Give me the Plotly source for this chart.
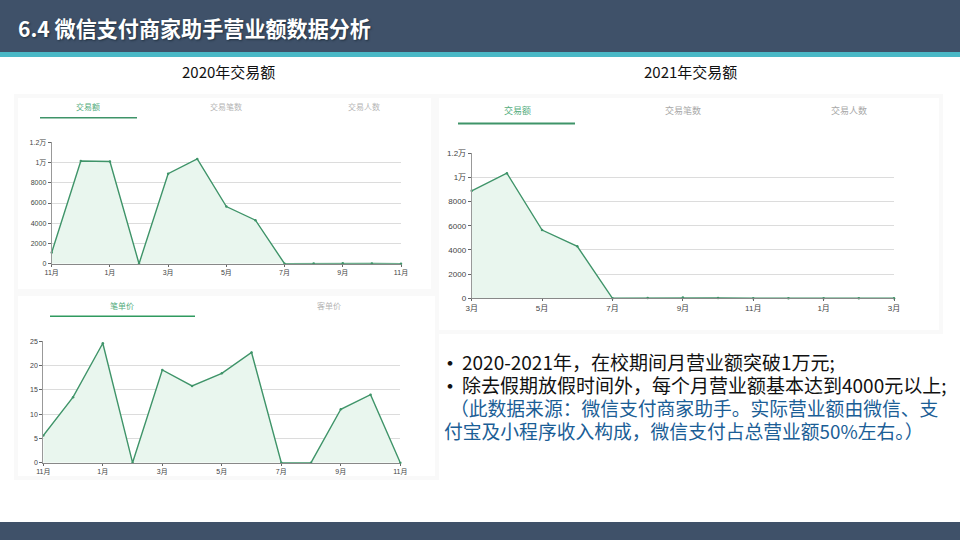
import plotly.graph_objects as go

# monthly values
months_2020 = ['11月', '12月', '1月', '2月', '3月', '4月', '5月', '6月', '7月', '8月', '9月', '10月', '11月']
months_2021 = ['3月', '4月', '5月', '6月', '7月', '8月', '9月', '10月', '11月', '12月', '1月', '2月', '3月']
amount_2020 = [1100, 10150, 10100, 0, 8900, 10350, 5650, 4300, 0, 20, 50, 30, 0]
price_2020 = [5.6, 13.5, 24.6, 0, 19.1, 15.8, 18.4, 22.7, 0, 0, 11, 14, 0]
amount_2021 = [8900, 10350, 5650, 4300, 0, 20, 60, 30, 10, 10, 10, 10, 10]

amount_ticks = [0, 2000, 4000, 6000, 8000, 10000, 12000]
amount_labels = ['0', '2000', '4000', '6000', '8000', '1万', '1.2万']
price_ticks = [0, 5, 10, 15, 20, 25]

FONT = 'Noto Sans CJK SC'
TICK_FONT = 'Liberation Sans, Noto Sans CJK SC'
GREEN = '#3f9469'
W, H = 960, 540


def px(x):
    return x / W


def py(y):
    return 1 - y / H


fig = go.Figure()
shapes = []
annotations = []


def rect(x0, y0, x1, y1, fill, line=None, width=0):
    shapes.append(dict(type='rect', xref='paper', yref='paper', x0=px(x0), x1=px(x1), y0=py(y0), y1=py(y1),
                       fillcolor=fill, line=dict(color=line or fill, width=width), layer='below'))


def label(x, y, text, size, color, anchor='center', bold=False, shadow=None):
    font = dict(family=FONT, size=size, color=color, weight='bold' if bold else 'normal')
    if shadow:
        font['shadow'] = shadow
    annotations.append(dict(xref='paper', yref='paper', x=px(x), y=py(y), text=text, showarrow=False,
                            xanchor=anchor, yanchor='middle', font=font))


def add_chart(n, months, values, ticks, ticklabels, box, size):
    x0, x1, y_top, y_bottom = box
    xs = list(range(len(months)))
    suffix = '' if n == 1 else str(n)
    fig.add_trace(go.Scatter(x=xs, y=values, mode='lines+markers', fill='tozeroy', fillcolor='#e9f6ee',
                             line=dict(color=GREEN, width=1.4), marker=dict(size=2.5, color=GREEN),
                             cliponaxis=False, showlegend=False, xaxis='x' + suffix, yaxis='y' + suffix))
    fig.update_layout({
        'xaxis' + suffix: dict(domain=[px(x0), px(x1)], range=[0, len(months) - 1], anchor='y' + suffix,
                               automargin=False, tickvals=xs[::2], ticktext=months[::2], ticks='outside', ticklen=2,
                               tickcolor='#666', showgrid=False, zeroline=False, showline=True,
                               linecolor='#888', linewidth=1.2, tickfont=dict(family=TICK_FONT, size=size, color='#444')),
        'yaxis' + suffix: dict(domain=[py(y_bottom), py(y_top)], range=[0, ticks[-1]], anchor='x' + suffix,
                               automargin=False, tickvals=ticks, ticktext=ticklabels, ticks='outside', ticklen=3,
                               tickcolor='#666', gridcolor='#dcdcdc', gridwidth=1, zeroline=False, showline=True,
                               linecolor='#999', linewidth=1, tickfont=dict(family=TICK_FONT, size=size, color='#444')),
    })


# slide frame
rect(0, 0, W, 52, '#3f5169')
rect(0, 52, W, 57, '#4ab8c6')
rect(0, 522, W, H, '#3f5169')

# panels behind the charts
rect(16, 96, 433, 291, '#ffffff', '#f9f9f9', 4)
rect(16, 294, 437, 478, '#ffffff', '#f9f9f9', 4)
rect(437, 96, 941, 332, '#ffffff', '#f9f9f9', 4)

add_chart(1, months_2020, amount_2020, amount_ticks, amount_labels, (51.7, 401, 142.3, 263.7), 7)
add_chart(2, months_2020, price_2020, price_ticks, [str(t) for t in price_ticks], (43.3, 400.3, 341.3, 462.7), 7)
add_chart(3, months_2021, amount_2021, amount_ticks, amount_labels, (471.7, 894, 153.3, 298.3), 8)

# tab underlines
rect(40, 117, 137, 118.5, GREEN)
rect(50, 315.5, 195, 317, '#2f9a5f')
rect(458, 122.5, 575, 124.5, GREEN)

label(16, 28, '6.4 微信支付商家助手营业额数据分析', 21.1, '#ffffff', 'left', True, '1px 1px 2px #20303f')
label(228, 72, '2020年交易额', 15, '#111111')
label(690, 72, '2021年交易额', 15, '#111111')

label(88, 106, '交易额', 8, '#55ad80')
label(226, 106, '交易笔数', 8, '#b5b5b5')
label(364, 106, '交易人数', 8, '#b5b5b5')
label(122, 305, '笔单价', 8, '#55ad80')
label(329, 305, '客单价', 8, '#b5b5b5')
label(517, 110, '交易额', 9, '#55ad80')
label(683, 110, '交易笔数', 9, '#a8a8a8')
label(849, 110, '交易人数', 9, '#a8a8a8')

label(437, 361, '•', 22, '#111111', 'left')
label(460, 361, '2020-2021年，在校期间月营业额突破1万元;', 19, '#111111', 'left')
label(437, 384, '•', 22, '#111111', 'left')
label(460, 384, '除去假期放假时间外，每个月营业额基本达到4000元以上;', 19, '#111111', 'left')
label(448, 407, '（此数据来源：微信支付商家助手。实际营业额由微信、支', 18.8, '#1b5e96', 'left')
label(442, 430, '付宝及小程序收入构成，微信支付占总营业额50%左右。）', 18.8, '#1b5e96', 'left')

fig.update_layout(width=W, height=H, margin=dict(l=0, r=0, t=0, b=0), paper_bgcolor='white',
                  plot_bgcolor='rgba(0,0,0,0)', shapes=shapes, annotations=annotations, showlegend=False)

# drop the browser's default page margin so the slide fills the window
fig.write_html("out.html", config={'displayModeBar': False}, post_script="document.body.style.margin='0px';")
